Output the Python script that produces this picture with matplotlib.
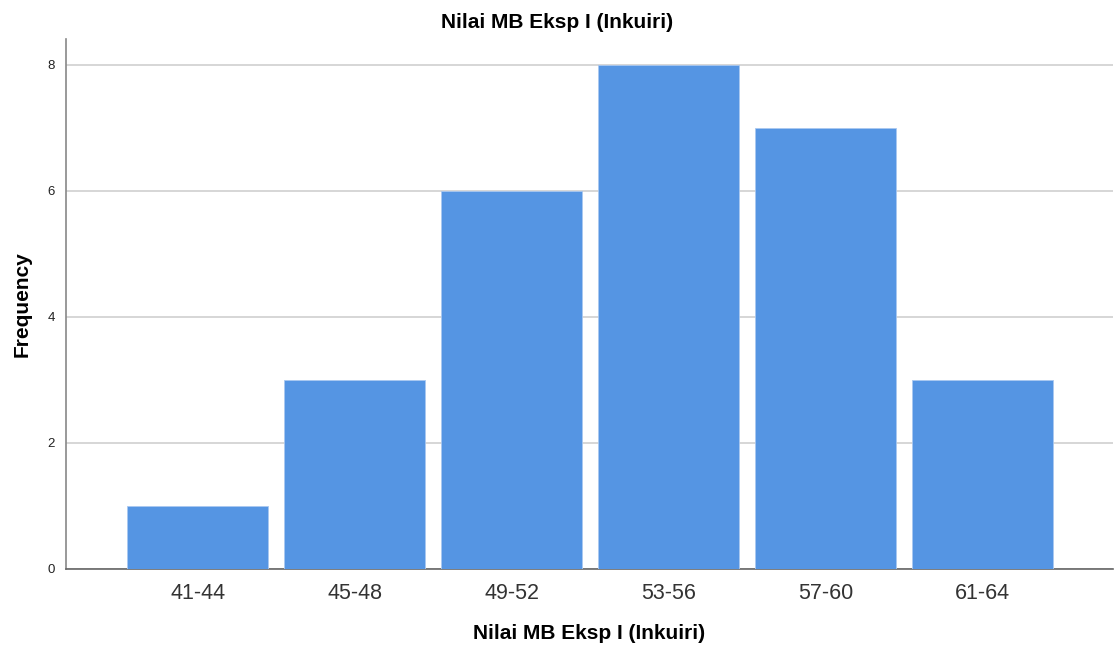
import matplotlib
matplotlib.use("Agg")
import matplotlib.pyplot as plt
import numpy as np

plt.rcParams["font.family"] = ["Liberation Sans", "DejaVu Sans"]

# class intervals and counts
categories = ["41-44", "45-48", "49-52", "53-56", "57-60", "61-64"]
counts = [1, 3, 6, 8, 7, 3]
y_ticks = [0, 2, 4, 6, 8]
title = "Nilai MB Eksp I (Inkuiri)"

fig = plt.figure(figsize=(11.15, 6.46), dpi=100)
ax = fig.add_axes([0.0592, 0.1192, 0.9388, 0.8204])

x = np.arange(len(categories))
ax.bar(x, counts, width=0.9, color="#5595e3", edgecolor="#a9c8f0", linewidth=0.6, zorder=3)

ax.set_xlim(-0.84, 5.83)
ax.set_ylim(0, 8.41)
ax.set_yticks(y_ticks)
ax.set_xticks(x)
ax.set_xticklabels(categories)
ax.yaxis.grid(True, color="#d0d0d0", linewidth=1.2, zorder=0)
ax.tick_params(axis="both", length=0)
ax.tick_params(axis="y", labelsize=9.5, colors="#222222", pad=8)
ax.tick_params(axis="x", labelsize=15.5, colors="#333333", pad=10)

for side in ["top", "right"]:
    ax.spines[side].set_visible(False)
ax.spines["left"].set_color("#888888")
ax.spines["bottom"].set_color("#666666")
ax.spines["left"].set_linewidth(1.2)
ax.spines["bottom"].set_linewidth(1.2)

# title is centred on the figure, not the axes
fig.text(0.5, 1 - 22 / 646, title, ha="center", va="center",
         fontsize=15, fontweight="bold")
ax.set_xlabel(title, fontsize=15, fontweight="bold", va="center")
ax.xaxis.set_label_coords(0.5, -0.121)
ax.set_ylabel("Frequency", fontsize=15, fontweight="bold", va="center")
ax.yaxis.set_label_coords(-0.042, 0.5)

fig.savefig("out.png", dpi=100)
